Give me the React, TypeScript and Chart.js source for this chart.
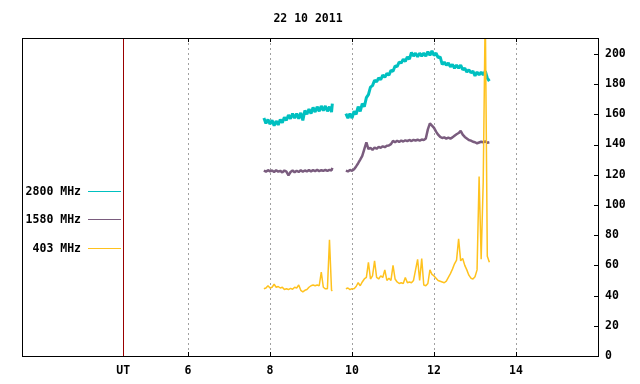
import React, { useEffect, useRef } from 'react';
import { Chart, registerables } from 'chart.js';

Chart.register(...registerables);

const chartTitle = '22 10 2011';
const seriesNames = ['2800 MHz', '1580 MHz', '403 MHz'];
const seriesColors = ['#00c0c0', '#7a5c7e', '#ffc21e'];
const seriesWidths = [3, 2.5, 1.5];
const utColor = '#990000';
const utHour = 4.42;

const xTickValues = [4.42, 6, 8, 10, 12, 14];
const xTickLabels = ['UT', '6', '8', '10', '12', '14'];
const yTickValues = [0, 20, 40, 60, 80, 100, 120, 140, 160, 180, 200];

const times1 = [7.85, 7.9, 7.95, 8, 8.05, 8.1, 8.15, 8.2, 8.25, 8.3, 8.35, 8.4, 8.45, 8.5, 8.55, 8.6, 8.65, 8.7, 8.75, 8.8, 8.85, 8.9, 8.95, 9, 9.05, 9.1, 9.15, 9.2, 9.25, 9.3, 9.35, 9.4, 9.45, 9.5, 9.52];
const times2 = [9.85, 9.9, 9.95, 10, 10.05, 10.1, 10.15, 10.2, 10.25, 10.3, 10.35, 10.4, 10.45, 10.5, 10.55, 10.6, 10.65, 10.7, 10.75, 10.8, 10.85, 10.9, 10.95, 11, 11.05, 11.1, 11.15, 11.2, 11.25, 11.3, 11.35, 11.4, 11.45, 11.5, 11.55, 11.6, 11.65, 11.7, 11.75, 11.8, 11.85, 11.9, 11.95, 12, 12.05, 12.1, 12.15, 12.2, 12.25, 12.3, 12.35, 12.4, 12.45, 12.5, 12.55, 12.6, 12.65, 12.7, 12.75, 12.8, 12.85, 12.9, 12.95, 13, 13.05, 13.1, 13.15, 13.2, 13.25, 13.3, 13.35];

const mhz2800Seg1 = [157.5, 154, 156.5, 153.5, 156, 152.5, 155.5, 153, 156.5, 154.5, 158, 156, 159.5, 157, 160.5, 157.5, 160.5, 157, 161, 156, 162.5, 160, 163.5, 160.5, 164.5, 161.5, 165, 162, 165.5, 162.5, 165.5, 162, 165, 161.5, 167];
const mhz2800Seg2 = [160.5, 157.5, 160.5, 157.5, 162, 160, 165, 162, 167, 165, 171, 173, 178, 179, 182.5, 181.5, 184, 183, 186, 184.5, 187, 186, 189, 188.5, 192, 191.5, 194.5, 194, 196.5, 195, 198, 196.5, 201, 198.5, 200.5, 198, 200.5, 198.5, 200.5, 198.5, 201.5, 199, 202, 199, 200.5, 197.5, 198, 193, 194.5, 192.5, 194, 191.5, 193, 190.5, 192.5, 190.5, 192.5, 189.5, 190.5, 188, 189.5, 187.5, 188.5, 185.5, 188, 186, 188, 186, 188.5, 184, 182];

const mhz1580Seg1 = [122.8, 122, 123, 122.2, 122.8, 121.8, 123, 122, 122.6, 121.5, 122.8, 122, 119.5, 121.8, 122.8, 121.6, 122.6, 121.8, 123, 122, 122.8, 122.2, 123, 122.2, 123, 122.4, 123.2, 122.4, 123, 122.6, 123.2, 122.5, 123.2, 122.8, 124.5];
const mhz1580Seg2 = [122.7, 122.2, 123.2, 122.6, 123.6, 125.5, 127.6, 130, 132.5, 137, 141.5, 137, 137.8, 136.5, 138, 137.2, 138.4, 137.8, 138.8, 138.2, 139.2, 139.4, 140.2, 142.4, 141.5, 142.5, 141.7, 142.6, 142, 142.8, 142.2, 143, 142.3, 143.1, 142.5, 143.2, 142.6, 143.3, 142.9, 144, 150, 154, 152.5, 151, 148.5, 146.5, 145, 144.3, 144.7, 143.9, 144.5, 143.9, 144.7, 145.8, 146.8, 147.6, 149, 146.5, 145, 144, 143, 142.6, 141.8, 141.5, 140.8, 141.3, 141.8, 141.5, 142.1, 141.2, 141.5];

const mhz403Seg1 = [44.5, 45, 46.5, 45, 45.5, 47.5, 45.5, 46, 45, 45.5, 44, 44.5, 44, 44.8, 44.2, 45.5, 45, 47, 43.5, 42.5, 43.5, 44, 45.5, 46.5, 47, 46.5, 47, 46.5, 55.5, 45.5, 44.5, 44.5, 77, 43.5, 43];
const mhz403Seg2 = [44.5, 45, 44, 44.5, 44.5, 46, 48.5, 46.5, 49, 51, 52, 62, 51, 53, 63, 52, 51, 53, 52, 57, 50, 51.5, 50, 60, 51, 49, 48, 48.5, 48, 52, 48.5, 49, 48.5, 50, 57, 64, 50, 64.5, 47, 46.5, 48, 57, 54, 53, 51.5, 50, 49.5, 49, 48.5, 49.5, 52, 54.5, 57.5, 61, 63.5, 77.5, 63, 64.5, 60, 57, 53.5, 51.5, 51, 52.5, 57, 118.8, 64, 115, 230, 66, 62];

const FONT_FAMILY = '"DejaVu Sans Mono", "Liberation Mono", monospace';
const FONT = 'bold 11.5px ' + FONT_FAMILY;

function buildPoints(t1: number[], v1: number[], t2: number[], v2: number[]) {
  const pts: { x: number; y: number | null }[] = [];
  t1.forEach((x, i) => pts.push({ x, y: v1[i] }));
  pts.push({ x: (t1[t1.length - 1] + t2[0]) / 2, y: null });
  t2.forEach((x, i) => pts.push({ x, y: v2[i] }));
  return pts;
}

const decorPlugin = {
  id: 'decor',
  afterDraw(chart: any) {
    const { ctx, chartArea } = chart;
    const xs = chart.scales.x;
    const ys = chart.scales.y;
    const { left, right, top, bottom } = chartArea;
    ctx.save();
    const ux = Math.round(xs.getPixelForValue(utHour)) + 0.5;
    ctx.strokeStyle = utColor;
    ctx.lineWidth = 1;
    ctx.beginPath();
    ctx.moveTo(ux, top);
    ctx.lineTo(ux, bottom);
    ctx.stroke();
    ctx.strokeStyle = '#000';
    ctx.strokeRect(Math.round(left) + 0.5, Math.round(top) + 0.5, Math.round(right - left), Math.round(bottom - top));
    ctx.beginPath();
    xTickValues.forEach((v, i) => {
      if (xTickLabels[i] === 'UT') return;
      const px = Math.round(xs.getPixelForValue(v)) + 0.5;
      ctx.moveTo(px, bottom);
      ctx.lineTo(px, bottom - 4);
      ctx.moveTo(px, top);
      ctx.lineTo(px, top + 4);
    });
    yTickValues.forEach((v) => {
      const py = Math.round(ys.getPixelForValue(v)) + 0.5;
      ctx.moveTo(right, py);
      ctx.lineTo(right - 4, py);
    });
    ctx.stroke();
    ctx.fillStyle = '#000';
    ctx.font = FONT;
    ctx.textAlign = 'center';
    ctx.textBaseline = 'middle';
    ctx.fillText(chartTitle, (left + right) / 2 - 2, 19);
    const legendY = [191, 219, 248];
    seriesNames.forEach((name, i) => {
      ctx.textAlign = 'right';
      ctx.fillStyle = '#000';
      ctx.fillText(name, 81, legendY[i] + 1);
      ctx.strokeStyle = seriesColors[i];
      ctx.lineWidth = 1;
      ctx.beginPath();
      ctx.moveTo(88, legendY[i] + 0.5);
      ctx.lineTo(121, legendY[i] + 0.5);
      ctx.stroke();
    });
    ctx.restore();
  },
};

export default function App() {
  const ref = useRef<HTMLCanvasElement | null>(null);
  useEffect(() => {
    if (!ref.current) return;
    const sets = [
      { i: 2, a: mhz403Seg1, b: mhz403Seg2 },
      { i: 1, a: mhz1580Seg1, b: mhz1580Seg2 },
      { i: 0, a: mhz2800Seg1, b: mhz2800Seg2 },
    ];
    const chart = new Chart(ref.current, {
      type: 'line',
      data: {
        datasets: sets.map((s) => ({
          label: seriesNames[s.i],
          data: buildPoints(times1, s.a, times2, s.b),
          borderColor: seriesColors[s.i],
          borderWidth: seriesWidths[s.i],
          borderJoinStyle: 'bevel',
          pointRadius: 0,
          spanGaps: false,
          tension: 0,
        })),
      },
      options: {
        animation: false,
        responsive: false,
        maintainAspectRatio: false,
        layout: { padding: { left: 22, top: 38, right: 0, bottom: 0 } },
        plugins: { legend: { display: false }, title: { display: false }, tooltip: { enabled: false } },
        scales: {
          x: {
            type: 'linear',
            min: 1.95,
            max: 16,
            afterBuildTicks: (s: any) => {
              s.ticks = xTickValues.map((v) => ({ value: v }));
            },
            afterFit: (s: any) => {
              s.height = 28;
            },
            ticks: {
              autoSkip: false,
              maxRotation: 0,
              padding: 8,
              color: '#000',
              font: { family: FONT_FAMILY, size: 11.5, weight: 'bold' },
              callback: (v: any) => {
                const i = xTickValues.indexOf(Number(v));
                return i >= 0 ? xTickLabels[i] : '';
              },
            },
            grid: { drawTicks: false, color: '#a0a0a0', lineWidth: 1 },
            border: { display: false, dash: [2, 3] },
          },
          y: {
            type: 'linear',
            position: 'right',
            min: 0,
            max: 210.5,
            afterBuildTicks: (s: any) => {
              s.ticks = yTickValues.map((v) => ({ value: v }));
            },
            afterFit: (s: any) => {
              s.width = 42;
            },
            ticks: {
              padding: 7,
              color: '#000',
              font: { family: FONT_FAMILY, size: 11.5, weight: 'bold' },
            },
            grid: { display: false, drawTicks: false },
            border: { display: false },
          },
        },
      },
      plugins: [decorPlugin],
    } as any);
    return () => chart.destroy();
  }, []);
  return (
    <div style={{ position: 'fixed', left: 0, top: 0, width: 640, height: 384, background: '#fff' }}>
      <canvas ref={ref} width={640} height={384} style={{ width: 640, height: 384 }} />
    </div>
  );
}
